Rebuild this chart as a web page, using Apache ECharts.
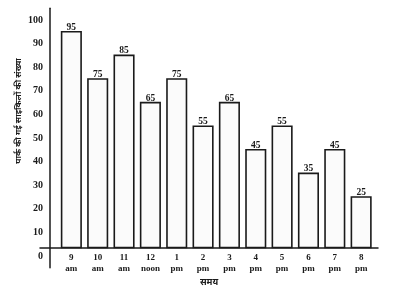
<!DOCTYPE html>
<html>
<head>
<meta charset="utf-8">
<script src="https://cdn.jsdelivr.net/npm/echarts@6/dist/echarts.min.js"></script>
<style>
  html, body { margin: 0; padding: 0; background: #ffffff; }
  #chart { width: 396px; height: 287px; }
</style>
</head>
<body>
<div id="chart"></div>
<script>
// ---- data ----
const timeHours = ['9', '10', '11', '12', '1', '2', '3', '4', '5', '6', '7', '8'];
const timePeriods = ['am', 'am', 'am', 'noon', 'pm', 'pm', 'pm', 'pm', 'pm', 'pm', 'pm', 'pm'];
const cyclesParked = [95, 75, 85, 65, 75, 55, 65, 45, 55, 35, 45, 25];
const yTickValues = [0, 10, 20, 30, 40, 50, 60, 70, 80, 90, 100];
const yAxisTitle = 'पार्क की गई साइकिलों की संख्या';
const xAxisTitle = 'समय';

// ---- style constants ----
const INK = '#1a1a1a';
const SERIF = '"Liberation Serif", "DejaVu Serif", serif';
const DEVA = '"Noto Sans Devanagari", "Lohit Devanagari", "FreeSans", "Noto Sans", sans-serif';
const BAR_WIDTH_UNITS = 0.74;   // bar width in category units
const BAR_BASE_VALUE = 3.6;     // bars stand on the drawn baseline

const indices = cyclesParked.map((_, i) => i);
const seriesData = indices.map(i => [i, cyclesParked[i]]);

const chart = echarts.init(document.getElementById('chart'), null, { renderer: 'canvas' });

chart.setOption({
  backgroundColor: '#ffffff',
  animation: false,
  grid: { left: 40, right: 18, top: 8.2, bottom: 19.2, containLabel: false, outerBoundsMode: 'none' },
  xAxis: {
    type: 'value',
    min: -1.19,
    max: 11.64,
    offset: -20,
    name: xAxisTitle,
    nameLocation: 'middle',
    nameGap: 30,
    nameTextStyle: { fontFamily: DEVA, fontWeight: 'bold', fontSize: 9, color: INK },
    axisLine: { show: true, onZero: false, lineStyle: { color: INK, width: 1.5 } },
    axisTick: { show: false },
    splitLine: { show: false },
    axisLabel: {
      customValues: indices,
      margin: 4,
      color: INK,
      fontFamily: SERIF,
      fontWeight: 'bold',
      fontSize: 9,
      lineHeight: 11,
      formatter: v => timeHours[v] + '\n' + timePeriods[v]
    }
  },
  yAxis: {
    type: 'value',
    min: -5,
    max: 105,
    offset: -10,
    axisLine: { show: true, onZero: false, lineStyle: { color: INK, width: 1.5 } },
    axisTick: { show: false },
    splitLine: { show: false },
    axisLabel: {
      customValues: yTickValues,
      margin: 7,
      color: INK,
      fontFamily: SERIF,
      fontWeight: 'bold',
      fontSize: 10
    }
  },
  graphic: [{
    type: 'text',
    x: 19.5,
    y: 111,
    rotation: Math.PI / 2,
    style: {
      text: yAxisTitle,
      font: 'bold 8.5px ' + DEVA,
      fill: INK,
      textAlign: 'center',
      textVerticalAlign: 'middle'
    }
  }],
  series: [{
    type: 'custom',
    data: seriesData,
    encode: { x: 0, y: 1 },
    renderItem: function (params, api) {
      const xi = api.value(0);
      const v = api.value(1);
      const top = api.coord([xi, v]);
      const base = api.coord([xi, BAR_BASE_VALUE]);
      const w = api.size([BAR_WIDTH_UNITS, 0])[0];
      return {
        type: 'group',
        children: [
          {
            type: 'rect',
            shape: { x: top[0] - w / 2, y: top[1], width: w, height: base[1] - top[1] },
            style: { fill: '#fbfbfb', stroke: INK, lineWidth: 1.6 }
          },
          {
            type: 'text',
            style: {
              text: String(v),
              x: top[0],
              y: top[1] + 0.5,
              textAlign: 'center',
              textVerticalAlign: 'bottom',
              font: 'bold 9.5px ' + SERIF,
              fill: INK
            }
          }
        ]
      };
    }
  }]
});
</script>
</body>
</html>
